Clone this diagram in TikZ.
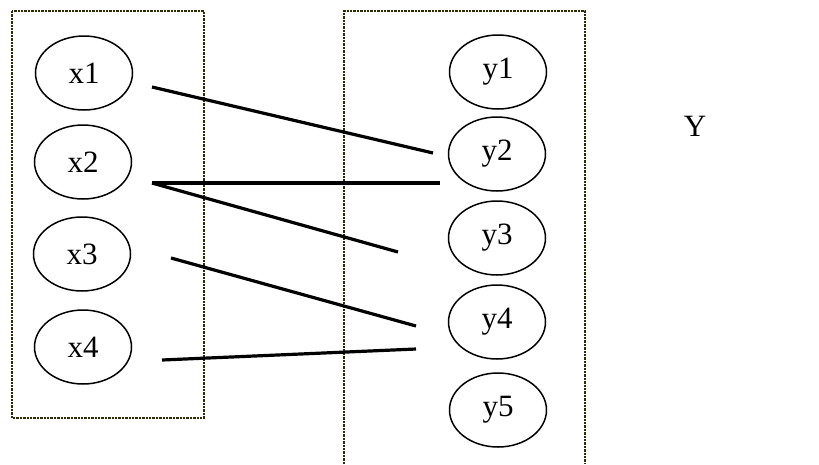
\documentclass[tikz,border=0pt]{standalone}
\usepackage{fontspec}
\setmainfont{Liberation Serif}
\usetikzlibrary{shapes.geometric}
\definecolor{boxcol}{RGB}{45,45,5}
\begin{document}
\begin{tikzpicture}[x=1pt,y=-1pt,
  item/.style={draw, ellipse, line width=1.5pt, minimum width=97pt,
    minimum height=74pt, inner sep=0pt, font=\fontsize{31}{34}\selectfont},
  groupbox/.style={draw=boxcol, line width=2.6pt, dash pattern=on 2.4pt off 1pt},
  link/.style={line width=3.2pt}
]
\useasboundingbox (0,0) rectangle (819,464);

% domain and codomain frames
\draw[groupbox] (12,11) rectangle (204,418);
\draw[groupbox] (344,464) -- (344,11) -- (585,11) -- (585,464);

% elements of X
\node[item] (x1) at (84,73)  {x1};
\node[item] (x2) at (83,162) {x2};
\node[item] (x3) at (82,254) {x3};
\node[item] (x4) at (83,347) {x4};

% elements of Y
\node[item] (y1) at (498,72)  {y1};
\node[item] (y2) at (497,154) {y2};
\node[item] (y3) at (497,238) {y3};
\node[item] (y4) at (497,322) {y4};
\node[item] (y5) at (498,410) {y5};

\node[font=\fontsize{31}{34}\selectfont] (ylab) at (695,126) {Y};

% line end points beside the ellipses
\coordinate (x1o) at (152,87);
\coordinate (x2o) at (152,183);
\coordinate (x3o) at (171,258);
\coordinate (x4o) at (162,360);
\coordinate (y2a) at (433,153);
\coordinate (y2b) at (440,183);
\coordinate (y3a) at (398,252);
\coordinate (y4a) at (416,326);
\coordinate (y4b) at (416,349);

% mapping
\draw[link] (x1o) -- (y2a);
\draw[link] (x2o) -- (y2b);
\draw[link] (x2o) -- (y3a);
\draw[link] (x3o) -- (y4a);
\draw[link] (x4o) -- (y4b);
\end{tikzpicture}
\end{document}
